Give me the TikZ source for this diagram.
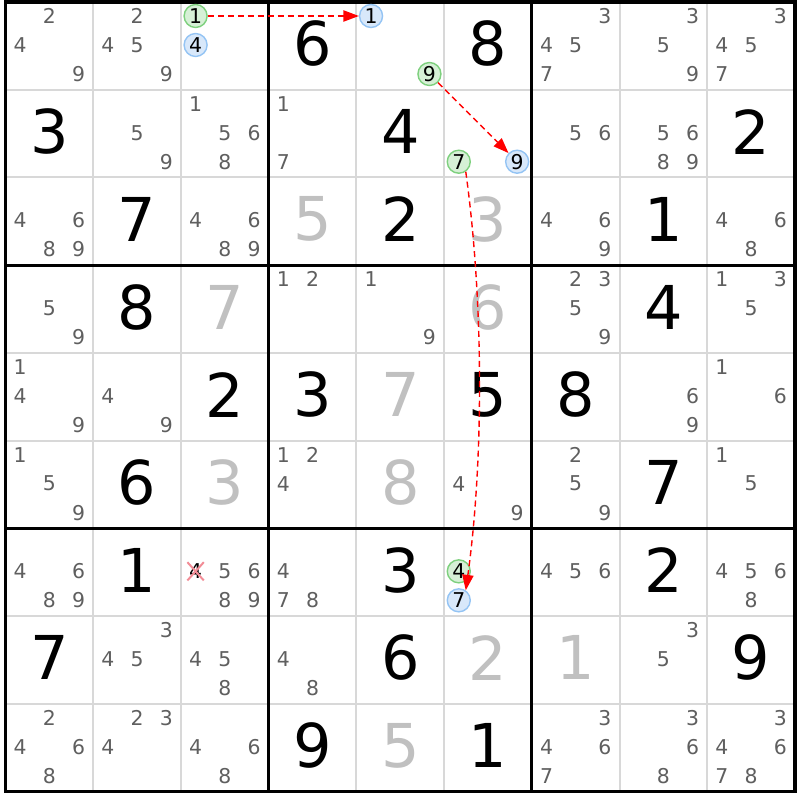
\documentclass[tikz,border=0pt]{standalone}
\usepackage{fontspec}
\setmainfont{DejaVu Sans}
\usetikzlibrary{arrows.meta}

\definecolor{gridgray}{RGB}{216,216,216}
\definecolor{candgray}{RGB}{95,95,95}
\definecolor{placedgray}{RGB}{192,192,192}
\definecolor{greenfill}{RGB}{214,240,214}
\definecolor{greendraw}{RGB}{126,208,126}
\definecolor{bluefill}{RGB}{216,232,250}
\definecolor{bluedraw}{RGB}{148,196,244}
\definecolor{elimred}{RGB}{242,140,150}

% size of one cell, in pixels of the picture
\newcommand{\cellsz}{87.72}
\newcommand{\given}[3]{\node[given] (g-#1-#2) at ({5.5+(#2-0.5)*\cellsz},{(#1-0.5)*\cellsz}) {#3};}
\newcommand{\placed}[3]{\node[placed] (g-#1-#2) at ({5.5+(#2-0.5)*\cellsz},{(#1-0.5)*\cellsz}) {#3};}
\newcommand{\cand}[4][cand]{%
  \pgfmathsetmacro{\kx}{5.5+(#3-0.5)*\cellsz+(mod(#4-1,3)-1)*29.2}%
  \pgfmathsetmacro{\ky}{2+(#2-1)*\cellsz+14+floor((#4-1)/3)*29}%
  \node[#1] (k-#2-#3-#4) at (\kx,\ky) {#4};}
\newcommand{\cands}[3]{\foreach \d in {#3} {\cand{#1}{#2}{\d}}}

\begin{document}
\begin{tikzpicture}[
    x=0.025cm, y=-0.025cm,
    thin grid/.style={draw=gridgray, line width=1.4pt},
    box grid/.style={draw=black, line width=2.3pt, line cap=rect},
    given/.style={inner sep=0pt, font=\fontsize{43}{45}\selectfont, text=black},
    placed/.style={given, text=placedgray},
    cand/.style={inner sep=1pt, font=\fontsize{14.5}{15}\selectfont, text=candgray},
    greencand/.style={cand, circle, text=black, inner sep=0pt, minimum size=0.575cm, line width=1pt, draw=greendraw, fill=greenfill},
    bluecand/.style={greencand, draw=bluedraw, fill=bluefill},
    elim/.style={cand, text=black},
    chain/.style={red, dashed, line width=1pt, dash pattern=on 4.3pt off 2.8pt, -{Triangle[length=11pt,width=8pt]}}
]
    \useasboundingbox[fill=white] (0,0) rectangle (800,800);

    % Cell lines
    \foreach \i in {1,...,8}
        \draw[thin grid] ({5.5+\i*\cellsz},2) -- ({5.5+\i*\cellsz},791.5)
                         (5.5,{2+\i*\cellsz}) -- (795,{2+\i*\cellsz});
    % Box lines
    \foreach \i in {0,3,6,9}
        \draw[box grid] ({5.5+\i*\cellsz},2) -- ({5.5+\i*\cellsz},791.5)
                        (5.5,{2+\i*\cellsz}) -- (795,{2+\i*\cellsz});

    % Row 1
    \cands{1}{1}{2,4,9}
    \cands{1}{2}{2,4,5,9}
    \cand[greencand]{1}{3}{1} \cand[bluecand]{1}{3}{4}
    \given{1}{4}{6}
    \cand[bluecand]{1}{5}{1} \cand[greencand]{1}{5}{9}
    \given{1}{6}{8}
    \cands{1}{7}{3,4,5,7}
    \cands{1}{8}{3,5,9}
    \cands{1}{9}{3,4,5,7}

    % Row 2
    \given{2}{1}{3}
    \cands{2}{2}{5,9}
    \cands{2}{3}{1,5,6,8}
    \cands{2}{4}{1,7}
    \given{2}{5}{4}
    \cand[greencand]{2}{6}{7} \cand[bluecand]{2}{6}{9}
    \cands{2}{7}{5,6}
    \cands{2}{8}{5,6,8,9}
    \given{2}{9}{2}

    % Row 3
    \cands{3}{1}{4,6,8,9}
    \given{3}{2}{7}
    \cands{3}{3}{4,6,8,9}
    \placed{3}{4}{5}
    \given{3}{5}{2}
    \placed{3}{6}{3}
    \cands{3}{7}{4,6,9}
    \given{3}{8}{1}
    \cands{3}{9}{4,6,8}

    % Row 4
    \cands{4}{1}{5,9}
    \given{4}{2}{8}
    \placed{4}{3}{7}
    \cands{4}{4}{1,2}
    \cands{4}{5}{1,9}
    \placed{4}{6}{6}
    \cands{4}{7}{2,3,5,9}
    \given{4}{8}{4}
    \cands{4}{9}{1,3,5}

    % Row 5
    \cands{5}{1}{1,4,9}
    \cands{5}{2}{4,9}
    \given{5}{3}{2}
    \given{5}{4}{3}
    \placed{5}{5}{7}
    \given{5}{6}{5}
    \given{5}{7}{8}
    \cands{5}{8}{6,9}
    \cands{5}{9}{1,6}

    % Row 6
    \cands{6}{1}{1,5,9}
    \given{6}{2}{6}
    \placed{6}{3}{3}
    \cands{6}{4}{1,2,4}
    \placed{6}{5}{8}
    \cands{6}{6}{4,9}
    \cands{6}{7}{2,5,9}
    \given{6}{8}{7}
    \cands{6}{9}{1,5}

    % Row 7
    \cands{7}{1}{4,6,8,9}
    \given{7}{2}{1}
    \cand[elim]{7}{3}{4} \cands{7}{3}{5,6,8,9}
    \cands{7}{4}{4,7,8}
    \given{7}{5}{3}
    \cand[greencand]{7}{6}{4} \cand[bluecand]{7}{6}{7}
    \cands{7}{7}{4,5,6}
    \given{7}{8}{2}
    \cands{7}{9}{4,5,6,8}

    % Row 8
    \given{8}{1}{7}
    \cands{8}{2}{3,4,5}
    \cands{8}{3}{4,5,8}
    \cands{8}{4}{4,8}
    \given{8}{5}{6}
    \placed{8}{6}{2}
    \placed{8}{7}{1}
    \cands{8}{8}{3,5}
    \given{8}{9}{9}

    % Row 9
    \cands{9}{1}{2,4,6,8}
    \cands{9}{2}{2,3,4}
    \cands{9}{3}{4,6,8}
    \given{9}{4}{9}
    \placed{9}{5}{5}
    \given{9}{6}{1}
    \cands{9}{7}{3,4,6,7}
    \cands{9}{8}{3,6,8}
    \cands{9}{9}{3,4,6,7,8}

    % Eliminated candidate
    \draw[elimred, line width=1.4pt] (k-7-3-4.north west) -- (k-7-3-4.south east)
                                     (k-7-3-4.north east) -- (k-7-3-4.south west);

    % Chain links
    \draw[chain] (k-1-3-1) -- (k-1-5-1);
    \draw[chain] (k-1-5-9) -- (k-2-6-9);
    \draw[chain] (k-2-6-7.-55) .. controls +(18,130) and +(18,-130) .. (k-7-6-7.55);
\end{tikzpicture}
\end{document}
